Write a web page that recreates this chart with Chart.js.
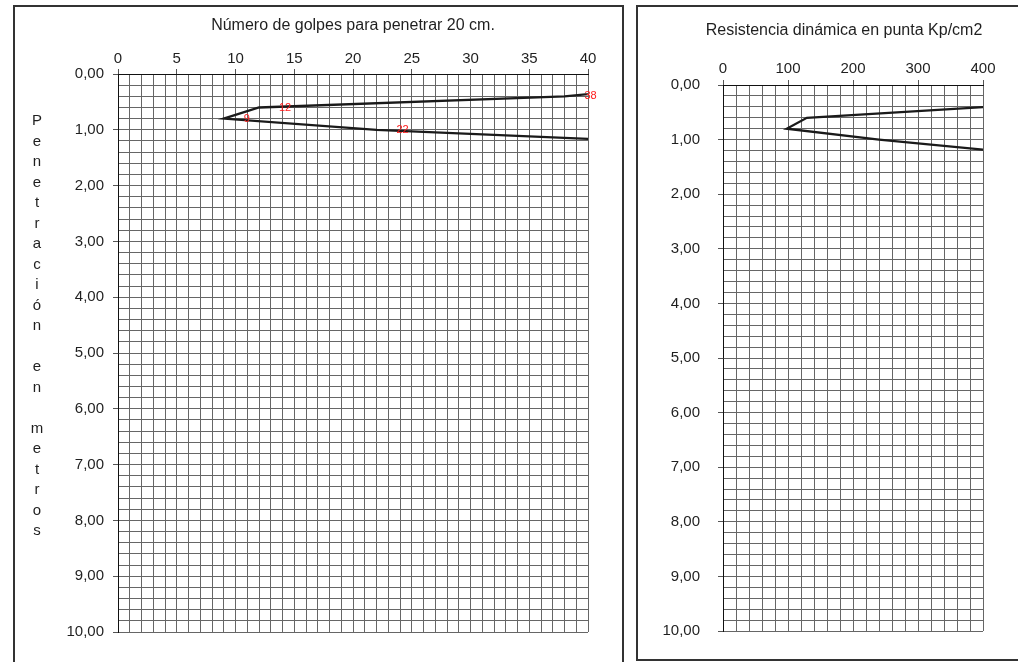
<!DOCTYPE html>
<html>
<head>
<meta charset="utf-8">
<script src="https://cdn.jsdelivr.net/npm/chart.js@4.4.1/dist/chart.umd.min.js"></script>
<style>
html,body{margin:0;padding:0;background:#fff;width:1018px;height:662px;overflow:hidden;position:relative;}
.panel{position:absolute;border:2px solid #333;box-sizing:border-box;}
#p1{left:13px;top:5px;width:611px;height:700px;}
#p2{left:636px;top:5px;width:420px;height:656px;}
canvas{position:absolute;top:0;}
#c1{left:0;}
#c2{left:637px;}
</style>
</head>
<body>
<div class="panel" id="p1"></div>
<div class="panel" id="p2"></div>
<canvas id="c1" width="622" height="662"></canvas>
<canvas id="c2" width="381" height="662"></canvas>
<script>
// ---- data ----
const depthGolpes = [0.2, 0.4, 0.6, 0.8, 1.0, 1.2];
const golpes = [48, 38, 12, 9, 22, 44];
const depthResist = [0.2, 0.4, 0.6, 0.8, 1.0, 1.2];
const resistencia = [500, 405, 129, 98, 240, 415];
const golpesTicks = [0, 5, 10, 15, 20, 25, 30, 35, 40];
const resistTicks = [0, 100, 200, 300, 400];
const depthTicks = [0, 1, 2, 3, 4, 5, 6, 7, 8, 9, 10];
const titleGolpes = 'Número de golpes para penetrar 20 cm.';
const titleResist = 'Resistencia dinámica en punta Kp/cm2';
const yAxisTitle = 'Penetración en metros';

const FONT = "'Liberation Sans', Arial, Helvetica, sans-serif";
const TXT = '#1f1f1f';
const GRID = '#666666';

const isIn = (arr, v) => arr.some(a => Math.abs(a - v) < 1e-6);
const fmtDepth = v => v.toFixed(2).replace('.', ',');

// chart heading drawn at a given centre
const panelTitle = {
  id: 'panelTitle',
  afterDraw(chart, args, opts) {
    if (!opts.text) return;
    const ctx = chart.ctx;
    ctx.save();
    ctx.font = '16px ' + FONT;
    ctx.fillStyle = TXT;
    ctx.textAlign = 'center';
    ctx.textBaseline = 'middle';
    ctx.fillText(opts.text, opts.x, opts.y);
    ctx.restore();
  }
};

// stacked vertical title (one letter per line)
const stackedTitle = {
  id: 'stackedTitle',
  afterDraw(chart, args, opts) {
    if (!opts.text) return;
    const ctx = chart.ctx;
    const lines = [];
    opts.text.split(' ').forEach((w, i) => {
      if (i > 0) lines.push('');
      for (const ch of w) lines.push(ch);
    });
    ctx.save();
    ctx.font = '15px ' + FONT;
    ctx.fillStyle = TXT;
    ctx.textAlign = 'center';
    ctx.textBaseline = 'middle';
    lines.forEach((ch, i) => ctx.fillText(ch, opts.x, opts.y + i * opts.dy));
    ctx.restore();
  }
};

// red value labels beside points that lie inside the plot
const valueLabels = {
  id: 'valueLabels',
  afterDatasetsDraw(chart, args, opts) {
    if (!opts.show) return;
    const ctx = chart.ctx;
    const area = chart.chartArea;
    const meta = chart.getDatasetMeta(0);
    const vals = chart.data.datasets[0].data;
    ctx.save();
    ctx.font = '11px ' + FONT;
    ctx.fillStyle = '#ff1a1a';
    ctx.textAlign = 'left';
    ctx.textBaseline = 'middle';
    meta.data.forEach((pt, i) => {
      if (pt.x < area.left - 0.5 || pt.x > area.right + 0.5) return;
      ctx.fillText(String(vals[i].x), pt.x + 20, pt.y);
    });
    ctx.restore();
  }
};

function makeChart(canvasId, cfg) {
  const pts = cfg.xs.map((x, i) => ({x: x, y: cfg.ys[i]}));
  return new Chart(document.getElementById(canvasId), {
    type: 'scatter',
    data: {
      datasets: [{
        data: pts,
        showLine: true,
        borderColor: '#1a1a1a',
        borderWidth: 2.3,
        pointRadius: 0,
        pointHoverRadius: 0,
        tension: 0,
        fill: false
      }]
    },
    options: {
      responsive: false,
      animation: false,
      devicePixelRatio: 1,
      layout: {padding: cfg.padding},
      events: [],
      plugins: {
        legend: {display: false},
        tooltip: {enabled: false},
        title: {display: false},
        panelTitle: cfg.heading,
        stackedTitle: cfg.stacked || {},
        valueLabels: {show: !!cfg.showLabels}
      },
      scales: {
        x: {
          type: 'linear',
          position: 'top',
          min: 0,
          max: cfg.xMax,
          afterFit: s => { s.height = cfg.xHeight; },
          ticks: {
            stepSize: cfg.xStep,
            autoSkip: false,
            maxRotation: 0,
            padding: cfg.xTickPad,
            color: TXT,
            font: {family: FONT, size: 15},
            callback: v => isIn(cfg.xTicks, v) ? String(v) : ''
          },
          grid: {
            color: GRID,
            lineWidth: 1,
            drawTicks: true,
            tickLength: 5,
            tickColor: c => (c.tick && isIn(cfg.xTicks, c.tick.value)) ? '#555' : 'rgba(0,0,0,0)'
          },
          border: {display: true, color: '#111', width: 1}
        },
        y: {
          type: 'linear',
          position: 'left',
          reverse: true,
          min: 0,
          max: 10,
          afterFit: s => { s.width = cfg.yWidth; },
          ticks: {
            stepSize: 0.2,
            autoSkip: false,
            padding: cfg.yTickPad,
            color: TXT,
            font: {family: FONT, size: 15},
            callback: v => isIn(depthTicks, v) ? fmtDepth(v) : ''
          },
          grid: {
            color: GRID,
            lineWidth: 1,
            drawTicks: true,
            tickLength: 5,
            tickColor: c => (c.tick && isIn(depthTicks, c.tick.value)) ? '#555' : 'rgba(0,0,0,0)'
          },
          border: {display: true, color: '#111', width: 1}
        }
      }
    },
    plugins: [panelTitle, stackedTitle, valueLabels]
  });
}

makeChart('c1', {
  xs: golpes, ys: depthGolpes, xMax: 40, xStep: 1, xTicks: golpesTicks,
  heading: {text: titleGolpes, x: 353, y: 26},
  padding: {left: 0, right: 34, top: 0, bottom: 30},
  xHeight: 74, xTickPad: 1, yWidth: 118, yTickPad: 9, showLabels: true,
  stacked: {text: yAxisTitle, x: 37, y: 121, dy: 20.5}
});

makeChart('c2', {
  xs: resistencia, ys: depthResist, xMax: 400, xStep: 20, xTicks: resistTicks,
  heading: {text: titleResist, x: 207, y: 31},
  padding: {left: 0, right: 35, top: 0, bottom: 31},
  xHeight: 85, xTickPad: 2, yWidth: 86, yTickPad: 18, showLabels: false
});
</script>
</body>
</html>
